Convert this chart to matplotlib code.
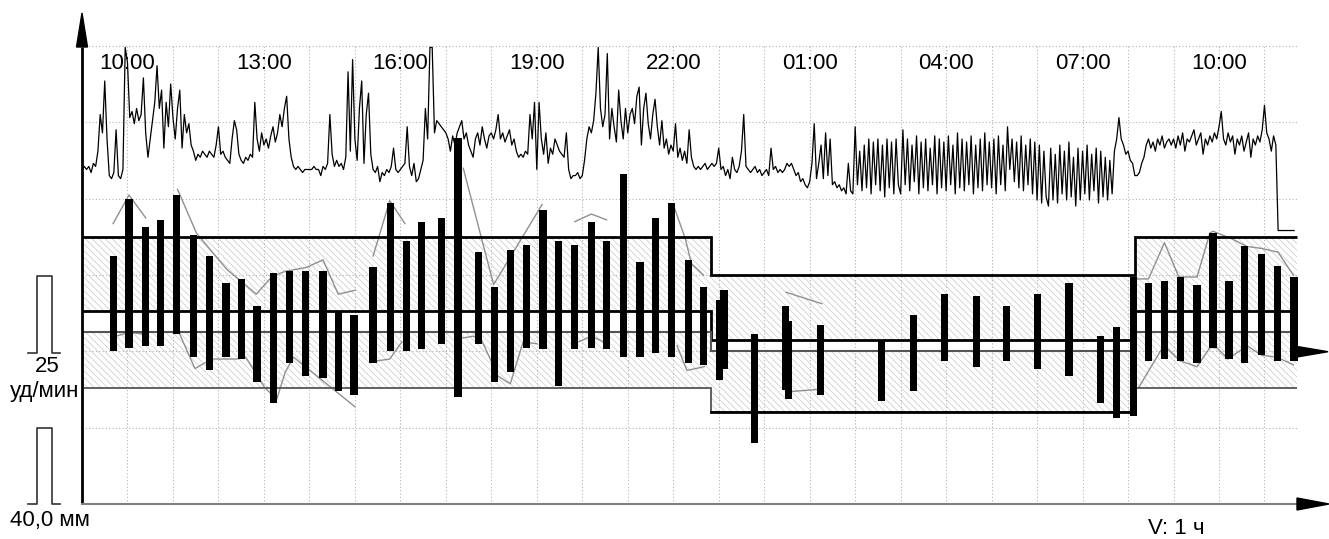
import matplotlib.pyplot as plt
import numpy as np

plt.rcParams["font.family"] = ["Liberation Sans", "DejaVu Sans"]
plt.rcParams["hatch.linewidth"] = 0.5
plt.rcParams["hatch.color"] = "#c8c8c8"

# blood pressure measurements (mmHg)
BP_TIME = ["09:42", "10:02", "10:24", "10:44", "11:05", "11:27", "11:48", "12:10", "12:30", "12:51",
           "13:13", "13:34", "13:55", "14:18", "14:38", "14:59", "15:24", "15:47", "16:08", "16:28",
           "16:54", "17:16", "17:43", "18:04", "18:25", "18:46", "19:08", "19:29", "19:50", "20:12",
           "20:32", "20:54", "21:16", "21:37", "21:58", "22:20", "22:40", "23:01", "23:07", "23:47",
           "00:28", "00:32", "01:14", "02:35", "03:17", "03:58", "04:40", "05:20", "06:01", "06:42",
           "07:24", "07:45", "08:07", "08:27", "08:48", "09:09", "09:31", "09:52", "10:13", "10:34",
           "10:56", "11:17", "11:39"]
BP_SYS = [130, 160, 145, 149, 162, 141, 130, 116, 118, 104,
          121, 122, 122, 122, 101, 99, 124, 158, 138, 148,
          150, 192, 132, 114, 133, 136, 154, 138, 136, 148,
          138, 173, 127, 150, 158, 128, 114, 107, 112, 89,
          104, 96, 94, 86, 99, 110, 109, 104, 110, 116,
          88, 93, 119, 116, 117, 119, 115, 142, 117, 135,
          131, 125, 119]
BP_DIA = [80, 82, 83, 83, 89, 77, 70, 77, 76, 64,
          53, 74, 67, 66, 59, 57, 74, 80, 80, 81,
          84, 56, 84, 64, 69, 82, 81, 62, 81, 82,
          81, 77, 77, 79, 77, 74, 73, 65, 71, 32,
          60, 55, 57, 54, 59, 75, 72, 75, 71, 67,
          53, 45, 46, 75, 76, 75, 74, 82, 76, 74,
          78, 75, 75]

# thin grey trend lines (None = gap)
SYS_TREND_TIME = ["09:41", "10:02", "10:24", None,
                  "11:06", "11:31", "12:11", "12:50", "13:10", "13:28", "13:56", "14:18", "14:38", "15:00", None,
                  "15:24", "15:46", "16:06", None,
                  "17:23", "18:03", "19:07", None,
                  "19:50", "20:12", "20:32", None,
                  "22:00", "22:16", "22:24", "22:40", None,
                  "00:29", "01:16", None,
                  "08:09", "08:27", "08:48", "09:07", "09:31", "09:48", "09:52", "10:17", "10:37", "10:56", "11:18", "11:38"]
SYS_TREND_VAL = [147, 162, 150, None,
                 165, 142, 123, 110, 119, 122, 124, 128, 110, 112, None,
                 130, 159, 147, None,
                 176, 115, 157, None,
                 148, 152, 149, None,
                 157, 139, 126, 120, None,
                 111, 105, None,
                 118, 118, 137, 119, 119, 142, 143, 139, 135, 134, 132, 120]
DIA_TREND_TIME = ["09:45", "10:02", "10:23", None,
                  "11:09", "11:29", "11:51", "12:24", "12:36", "13:01", "13:17", "13:28", "13:39", "14:32", "15:00", None,
                  "15:29", "15:46", "16:02", None,
                  "17:22", "17:36", "17:47", "18:09", "18:25", "18:42", "19:00", None,
                  "19:55", "20:12", "20:28", None,
                  "22:05", "22:18", "22:41", None,
                  "00:36", "01:09", None,
                  "08:14", "08:47", "09:09", "09:31", "09:48", "09:57", "10:12", "10:37", "10:56", "11:16", "11:38"]
DIA_TREND_VAL = [88, 90, 89, None,
                 89, 71, 76, 76, 77, 61, 55, 69, 77, 60, 51, None,
                 75, 76, 85, None,
                 87, 88, 86, 67, 63, 85, 84, None,
                 85, 88, 85, None,
                 83, 70, 72, None,
                 59, 60, None,
                 61, 83, 75, 72, 82, 82, 76, 83, 78, 77, 73]

# normal zones: day / night / day
ZONE_EDGES = ["09:00", "22:50", "08:09", "11:43"]
ZONE_SYS_HI = [140, 120, 140]
ZONE_SYS_LO = [101, 86, 101]
ZONE_DIA_HI = [90, 80, 90]
ZONE_DIA_LO = [61, 48, 61]

# heart rate, one value every 3 minutes from 09:00
HR_START = "09:00"
HR_STEP_MIN = 3
HR = [
    60, 61, 60, 61, 59, 62, 61, 66, 78, 72, 89, 70, 58, 57, 59, 73, 58, 57, 60, 100,   # 09
    95, 77, 79, 75, 80, 76, 78, 90, 72, 64, 70, 76, 82, 94, 80, 86, 67, 82, 74, 88,    # 10
    77, 70, 80, 86, 67, 78, 72, 75, 68, 66, 63, 65, 64, 66, 65, 64, 66, 65, 64, 68,    # 11
    74, 65, 66, 64, 63, 62, 70, 76, 73, 65, 63, 62, 64, 63, 65, 64, 82, 70, 66, 72,    # 12
    68, 70, 67, 71, 74, 69, 72, 78, 74, 80, 84, 70, 64, 61, 60, 61, 60, 59, 60, 60,    # 13
    60, 60, 61, 60, 60, 58, 61, 60, 62, 78, 65, 61, 63, 61, 62, 60, 64, 92, 66, 96,    # 14
    70, 63, 80, 89, 62, 78, 85, 65, 60, 59, 61, 56, 59, 58, 60, 59, 61, 67, 60, 59,    # 15
    60, 61, 62, 74, 61, 58, 62, 56, 57, 60, 63, 80, 70, 100, 100, 72, 76, 75, 74, 73,  # 16
    72, 70, 66, 71, 68, 72, 74, 76, 70, 72, 68, 66, 64, 70, 72, 68, 74, 70, 67, 71,    # 17
    72, 70, 73, 78, 70, 72, 69, 71, 73, 68, 70, 66, 64, 65, 64, 66, 65, 78, 70, 82,    # 18
    60, 82, 70, 65, 72, 62, 67, 65, 70, 68, 66, 65, 64, 72, 60, 57, 58, 58, 59, 57,    # 19
    58, 63, 70, 74, 72, 76, 85, 100, 80, 74, 78, 98, 70, 80, 74, 69, 86, 76, 70, 80,   # 20
    72, 78, 80, 75, 84, 87, 68, 80, 85, 75, 70, 78, 83, 74, 68, 76, 67, 70, 65, 68,    # 21
    66, 75, 64, 67, 63, 66, 62, 73, 64, 61, 60, 61, 60, 61, 62, 60, 61, 62, 61, 62,    # 22
    67, 60, 61, 58, 60, 57, 64, 60, 59, 61, 66, 78, 61, 60, 59, 60, 61, 59, 60, 58,    # 23
    59, 60, 58, 67, 60, 61, 59, 60, 59, 60, 62, 61, 62, 60, 58, 59, 56, 57, 55, 54,    # 00
    56, 62, 75, 57, 62, 68, 57, 72, 58, 70, 55, 56, 54, 55, 53, 54, 52, 62, 53, 52,    # 01
    74, 55, 66, 53, 68, 54, 70, 52, 69, 55, 70, 53, 68, 51, 70, 54, 69, 52, 70, 55,    # 02
    52, 73, 55, 70, 53, 68, 56, 71, 52, 69, 54, 70, 53, 67, 55, 71, 52, 70, 54, 69,    # 03
    53, 71, 55, 68, 52, 72, 54, 70, 53, 69, 55, 71, 52, 68, 54, 70, 53, 72, 55, 69,    # 04
    54, 70, 52, 71, 55, 68, 53, 74, 60, 70, 56, 69, 54, 71, 53, 68, 55, 70, 52, 69,    # 05
    50, 68, 49, 66, 51, 48, 67, 50, 65, 49, 68, 52, 66, 50, 69, 51, 64, 48, 67, 50,    # 06
    66, 52, 68, 50, 65, 53, 67, 49, 66, 51, 64, 50, 63, 52, 66, 70, 77, 70, 68, 65,    # 07
    66, 63, 62, 58, 58, 59, 62, 64, 68, 70, 67, 69, 66, 70, 68, 71, 67, 69, 70, 68,    # 08
    70, 67, 71, 68, 72, 66, 70, 69, 71, 73, 68, 70, 72, 65, 70, 68, 71, 69, 72, 70,    # 09
    74, 79, 70, 68, 72, 69, 71, 65, 70, 68, 71, 66, 69, 72, 64, 70, 68, 71, 69, 73,    # 10
    81, 72, 70, 66, 71, 68, 40, 40, 40, 40, 40, 40, 40, 40,                            # 11
]

TICK_LABELS = ["10:00", "13:00", "16:00", "19:00", "22:00", "01:00", "04:00", "07:00", "10:00"]


def to_hours(items):
    # clock strings -> hours from midnight of day 1, a day is added when time goes back
    out, day, prev = [], 0, None
    for s in items:
        if s is None:
            out.append(np.nan)
            continue
        hh, mm = s.split(":")
        t = int(hh) + int(mm) / 60 + 24 * day
        if prev is not None and t < prev:
            day += 1
            t += 24
        prev = t
        out.append(t)
    return np.array(out)


# page geometry (pixels of the 1329x539 picture)
W, H = 1329, 539
X0_PX, PX_PER_H = 82, 45.48       # 09:00 sits on the left axis
Y0_PX, PX_PER_MM = 504, 1.9075    # 0 mmHg on the bottom axis
PX_PER_BPM = 3.052                # 50 bpm on the y=200 grid line


def hx(px):
    return 9 + (px - X0_PX) / PX_PER_H


def my(py):
    return (Y0_PX - py) / PX_PER_MM


fig = plt.figure(figsize=(W / 100, H / 100), dpi=100)
ax = fig.add_axes([0, 0, 1, 1])
ax.set_xlim(hx(0), hx(W))
ax.set_ylim(my(H), my(0))
ax.set_axis_off()

grid_end = hx(1297)
grid = dict(color="#b4b4b4", lw=0.8, ls=(0, (1, 2)), zorder=1.5)
ax.vlines(np.arange(10, 36), 0, 240, **grid)
ax.hlines(np.arange(40, 241, 40), 9, grid_end, **grid)

# normal zones
edges = to_hours(ZONE_EDGES)
ext = lambda v: list(v) + [v[-1]]
hatch_kw = dict(step="post", facecolor="none", edgecolor="#c8c8c8", hatch="\\\\\\\\\\", linewidth=0, zorder=1)
ax.fill_between(edges, ext(ZONE_SYS_LO), ext(ZONE_SYS_HI), **hatch_kw)
ax.fill_between(edges, ext(ZONE_DIA_LO), ext(ZONE_DIA_HI), **hatch_kw)
ax.stairs(ZONE_SYS_HI, edges, baseline=None, color="black", lw=2, zorder=2.5)
ax.stairs(ZONE_SYS_LO, edges, baseline=None, color="black", lw=2, zorder=2.5)
ax.stairs(ZONE_DIA_HI, edges, baseline=None, color="#555555", lw=1.5, zorder=2.5)
ax.stairs(ZONE_DIA_LO, edges, baseline=None, color="#555555", lw=1.3, zorder=2.5)
ax.plot(edges[1:3], [ZONE_DIA_LO[1]] * 2, color="black", lw=2, zorder=2.6)

# trends and pressure bars
ax.plot(to_hours(SYS_TREND_TIME), np.array(SYS_TREND_VAL, dtype=float), color="#909090", lw=1, zorder=2)
ax.plot(to_hours(DIA_TREND_TIME), np.array(DIA_TREND_VAL, dtype=float), color="#909090", lw=1, zorder=2)
t_bp = to_hours(BP_TIME)
ax.bar(t_bp, np.array(BP_SYS) - np.array(BP_DIA), bottom=BP_DIA, width=7.3 / PX_PER_H,
       color="black", linewidth=0, zorder=3)

# axes with arrows
ax.plot([9, 9], [0, my(47)], color="black", lw=2, zorder=5, solid_capstyle="butt")
ax.fill([hx(76.5), 9, hx(87.5)], [my(47), my(13), my(47)], color="black", zorder=5)
ax.plot([9, grid_end], [0, 0], color="#808080", lw=1.5, zorder=5)
ax.fill([hx(1297), hx(1329), hx(1297)], [my(498), 0, my(510)], color="black", zorder=5)
ax.fill([hx(1297), hx(1328), hx(1297)], [my(346.5), my(351.7), my(357)], color="black", zorder=5)

# time labels
for t, lab in zip(to_hours(TICK_LABELS), TICK_LABELS):
    ax.text(t, my(69), lab, ha="center", va="baseline", fontsize=16, zorder=6)

# scale pulses and texts on the left
px = [hx(28.3), hx(36.7), hx(36.7), hx(51.7), hx(51.7), hx(60)]
ax.plot(px, [0, 0, 40, 40, 0, 0], color="#333333", lw=1.2)
ax.text(hx(47.5), my(371.7), "25", ha="center", va="baseline", fontsize=16)
ax.text(hx(10), my(396.7), "уд/мин", ha="left", va="baseline", fontsize=16)
ax.text(hx(10), my(525.7), "40,0 мм", ha="left", va="baseline", fontsize=16)
ax.text(hx(1148), my(534.5), "V: 1 ч", ha="left", va="baseline", fontsize=16)

# heart rate on its own scale
ax2 = ax.twinx()
ax2.set_ylim(50 - (H - 200) / PX_PER_BPM, 50 + 200 / PX_PER_BPM)
ax2.set_axis_off()
t_hr = to_hours([HR_START])[0] + np.arange(len(HR)) * HR_STEP_MIN / 60
ax2.plot(t_hr, HR, color="black", lw=0.9)
ax2.plot(px, [0, 0, 25, 25, 0, 0], color="#333333", lw=1.2)

fig.savefig("out.png", dpi=100)
